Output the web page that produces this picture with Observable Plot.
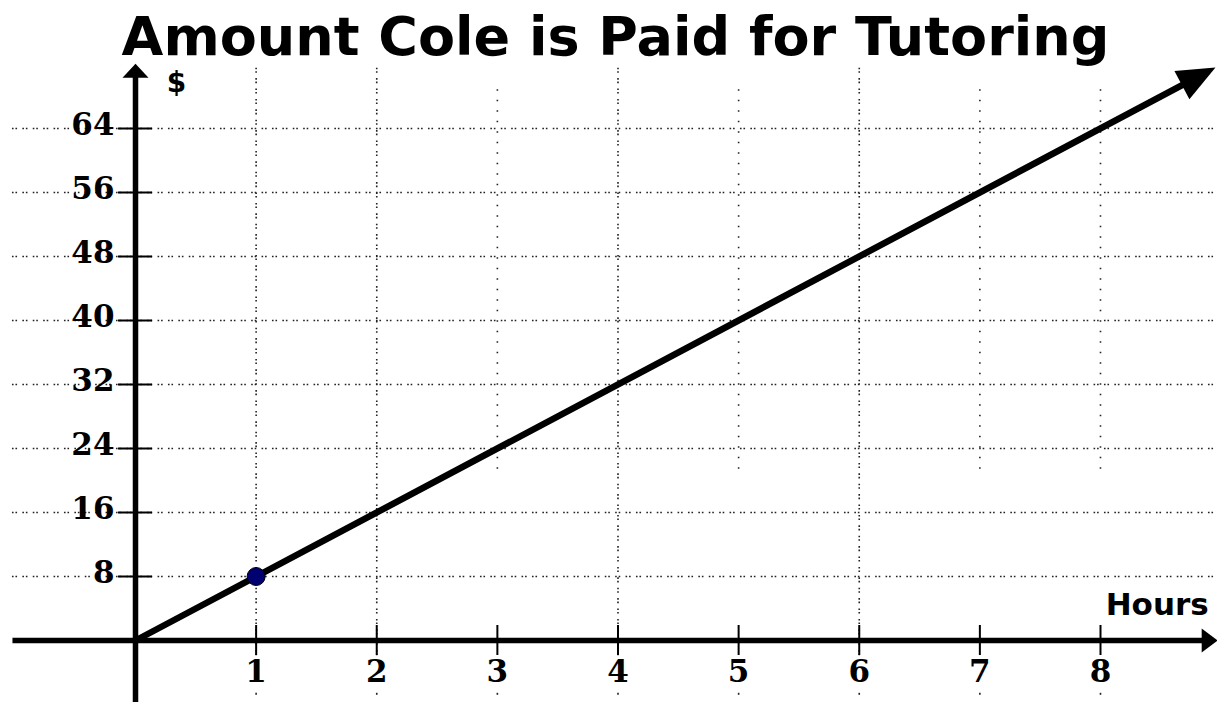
<!DOCTYPE html>
<html><head><meta charset="utf-8">
<script src="https://cdn.jsdelivr.net/npm/d3@7"></script>
<script src="https://cdn.jsdelivr.net/npm/@observablehq/plot@0.6"></script>
<style>body{margin:0;background:#fff} svg{display:block}</style>
</head><body><div id="chart"></div>
<script>
const title = "Amount Cole is Paid for Tutoring";
const xLabel = "Hours";
const yLabel = "$";
const xTicks = [1, 2, 3, 4, 5, 6, 7, 8];
const yTicks = [8, 16, 24, 32, 40, 48, 56, 64];
const fullGridX = [1, 2, 4, 6];
const partGridX = [3, 5, 7, 8];
const hours = [0, 8.88];
const dollars = [0, 71.05];
const pointHours = [1];
const pointDollars = [8];

const lineData = hours.map((h, i) => ({h, d: dollars[i]}));
const pointData = pointHours.map((h, i) => ({h, d: pointDollars[i]}));

function tri(L, W, back) {
  return (color, context) => {
    const m = d3.create("svg:marker")
      .attr("viewBox", `${-L} ${-W / 2} ${L} ${W}`)
      .attr("markerUnits", "userSpaceOnUse")
      .attr("markerWidth", L).attr("markerHeight", W)
      .attr("refX", -back).attr("refY", 0)
      .attr("orient", "auto")
      .attr("overflow", "visible")
      .attr("fill", color)
      .attr("stroke", "none");
    m.append("path").attr("d", `M${-L},${-W / 2}L0,0L${-L},${W / 2}Z`);
    return m.node();
  };
}

const dash = "1.6,1.9,1.6,5.3";
const gridStyle = {stroke: "#222", strokeWidth: 1.6};
const serif = {fontFamily: "DejaVu Serif", fontWeight: "bold", fontSize: 31, fill: "#000"};
const sans = {fontFamily: "DejaVu Sans", fontWeight: "bold", fill: "#000"};

const chart = Plot.plot({
  width: 1217,
  height: 702,
  marginLeft: 135,
  marginRight: 0,
  marginTop: 64,
  marginBottom: 62,
  x: {domain: [0, 8.97], axis: null},
  y: {domain: [0, 72], axis: null},
  marks: [
    Plot.ruleY(yTicks, {y: d => d, x1: -1.02, x2: 8.97, ...gridStyle, strokeDasharray: dash}),
    Plot.ruleX(fullGridX, {x: d => d, y1: -1.9, y2: 72.1, ...gridStyle, strokeDasharray: dash}),
    Plot.ruleX(partGridX, {x: d => d, y1: 21.4, y2: 69.4, ...gridStyle, strokeDasharray: "1.6,8.9"}),
    Plot.ruleX(xTicks, {x: d => d, y1: -6.6, y2: -6.85, ...gridStyle}),
    Plot.link([0], {x1: -1.02, y1: 0, x2: 8.905, y2: 0, stroke: "#000", strokeWidth: 5.5, markerEnd: tri(16, 24, 8)}),
    Plot.link([0], {x1: 0, y1: -8, x2: 0, y2: 71.1, stroke: "#000", strokeWidth: 5.5, markerEnd: tri(14, 26, 8)}),
    Plot.ruleY(yTicks, {y: d => d, x1: -0.141, x2: 0.141, stroke: "#000", strokeWidth: 2}),
    Plot.ruleX(xTicks, {x: d => d, y1: -1.875, y2: 1.875, stroke: "#000", strokeWidth: 2}),
    Plot.line(lineData, {x: "h", y: "d", stroke: "#000", strokeWidth: 6.5, markerEnd: tri(38, 32, 10)}),
    Plot.dot(pointData, {x: "h", y: "d", r: 9, fill: "#000070", stroke: "#000", strokeWidth: 1}),
    Plot.text(yTicks, {x: 0, y: d => d, text: d => String(d), dx: -21, dy: -3, textAnchor: "end", ...serif}),
    Plot.text(xTicks, {x: d => d, y: 0, text: d => String(d), dy: 32, textAnchor: "middle", ...serif}),
    Plot.text([yLabel], {x: 0.34, y: 69.7, text: d => d, fontSize: 28, ...sans}),
    Plot.text([xLabel], {x: 8.47, y: 4.4, text: d => d, fontSize: 31, ...sans}),
    Plot.text([title], {frameAnchor: "top", lineAnchor: "middle", dx: -61, dy: -26.3, text: d => d, fontSize: 54, ...sans})
  ]
});
document.getElementById("chart").appendChild(chart);
</script>
</body></html>
